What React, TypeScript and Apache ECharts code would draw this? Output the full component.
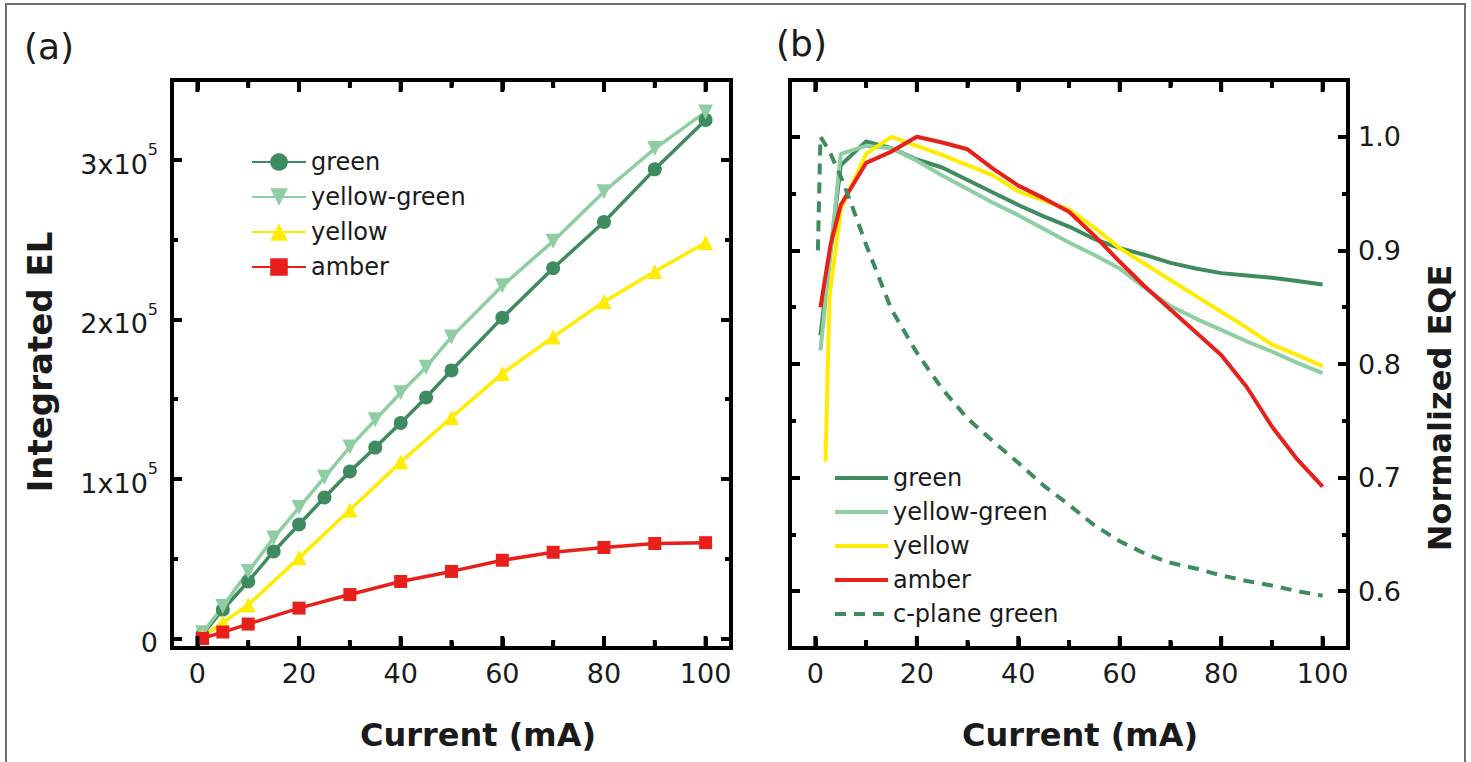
import React, { useEffect, useRef } from "react";
import * as echarts from "echarts";

// ---------- Panel (a): Integrated EL vs current ----------
const elGreenX = [1, 5, 10, 15, 20, 25, 30, 35, 40, 45, 50, 60, 70, 80, 90, 100];
const elGreenY = [2500, 18000, 35700, 54500, 71400, 88300, 104600, 119600, 135000, 151000, 168000, 201000, 232000, 261000, 294000, 325000];
const elYgX = [1, 5, 10, 15, 20, 25, 30, 35, 40, 45, 50, 60, 70, 80, 90, 100];
const elYgY = [3500, 20000, 42000, 63000, 82000, 101000, 120000, 137000, 154000, 170000, 189000, 221000, 249000, 280000, 307000, 330000];
const elYellowX = [1, 5, 10, 20, 30, 40, 50, 60, 70, 80, 90, 100];
const elYellowY = [1000, 10000, 21000, 50500, 80500, 110500, 138500, 166000, 189000, 211000, 230000, 248000];
const elAmberX = [1, 5, 10, 20, 30, 40, 50, 60, 70, 80, 90, 100];
const elAmberY = [0, 4000, 9000, 19000, 27500, 35700, 42000, 49000, 54000, 57000, 59500, 60000];

// axis ranges and ticks, panel (a)
const elXRange = [-5, 105];
const elYRange = [-6000, 350000];
const elXTicks = [0, 100, 20]; // first, last, major step
const elYTicks = [0, 300000, 100000];

// ---------- Panel (b): Normalized EQE vs current ----------
const eqGreenX = [1, 5, 10, 15, 20, 25, 30, 35, 40, 45, 50, 55, 60, 65, 70, 75, 80, 85, 90, 95, 100];
const eqGreenY = [0.825, 0.975, 0.996, 0.99, 0.98, 0.973, 0.962, 0.951, 0.94, 0.93, 0.921, 0.91, 0.902, 0.896, 0.889, 0.884, 0.88, 0.878, 0.876, 0.873, 0.87];
const eqYgX = [1, 5, 10, 15, 20, 25, 30, 35, 40, 45, 50, 55, 60, 65, 70, 75, 80, 85, 90, 95, 100];
const eqYgY = [0.812, 0.985, 0.992, 0.99, 0.979, 0.966, 0.954, 0.942, 0.931, 0.919, 0.907, 0.896, 0.884, 0.867, 0.851, 0.84, 0.83, 0.82, 0.811, 0.801, 0.792];
const eqYellowX = [2, 2.8, 5, 10, 15, 20, 25, 30, 35, 40, 45, 50, 55, 60, 65, 70, 75, 80, 85, 90, 95, 100];
const eqYellowY = [0.714, 0.86, 0.936, 0.985, 1.0, 0.992, 0.984, 0.975, 0.966, 0.952, 0.944, 0.936, 0.92, 0.902, 0.888, 0.874, 0.86, 0.846, 0.832, 0.817, 0.808, 0.798];
const eqAmberX = [1, 3, 5, 10, 15, 20, 25, 30, 35, 40, 45, 50, 55, 60, 65, 70, 75, 80, 85, 90, 95, 100];
const eqAmberY = [0.85, 0.905, 0.94, 0.977, 0.987, 1.0, 0.995, 0.989, 0.972, 0.957, 0.946, 0.934, 0.913, 0.89, 0.868, 0.848, 0.828, 0.808, 0.78, 0.745, 0.716, 0.692];
const eqCplaneX = [0.5, 1, 2, 3, 5, 7, 10, 15, 20, 25, 30, 35, 40, 45, 50, 55, 60, 65, 70, 75, 80, 85, 90, 95, 100];
const eqCplaneY = [0.9, 1.0, 0.993, 0.985, 0.965, 0.942, 0.905, 0.848, 0.81, 0.778, 0.752, 0.732, 0.713, 0.693, 0.676, 0.658, 0.644, 0.633, 0.625, 0.62, 0.614, 0.609, 0.605, 0.6, 0.596];

const eqXRange = [-5, 105];
const eqYRange = [0.55, 1.05];
const eqXTicks = [0, 100, 20];
const eqYTicks = [0.6, 1.0, 0.1];

// tick mark values along the current axis (both panels)
const xMajorTickValues = [0, 20, 40, 60, 80, 100];
const xMinorTickValues = [10, 30, 50, 70, 90];

const seriesNamesA = ["green", "yellow-green", "yellow", "amber"];
const seriesNamesB = ["green", "yellow-green", "yellow", "amber", "c-plane green"];

const C_GREEN = "#3d8b5e";
const C_YG = "#8fcea3";
const C_YELLOW = "#ffec00";
const C_AMBER = "#e8201c";
const TXT = "#1a1a1a";
const FONT = "'DejaVu Sans', 'Liberation Sans', sans-serif";

const SOLID_ICON = "path://M0,0L53,0L53,4L0,4Z";
const DASH_ICON = "path://M0,0L11,0L11,4L0,4Z M19,0L30,0L30,4L19,4Z M38,0L49,0L49,4L38,4Z M53,0L53,4L53,4Z";

// plot frames (px)
const FRAME_A = { left: 172, top: 80, width: 559, height: 568 };
const FRAME_B = { left: 790, top: 80, width: 558, height: 568 };

const zip = (xs: number[], ys: number[]) => xs.map((x, i) => [x, ys[i]]);

// x-tick grid spans the frame's full height; y-tick grid spans its full width
function tickGrids(frame: any, xr: number[], yr: number[], xt: number[], yt: number[]) {
  const sx = frame.width / (xr[1] - xr[0]);
  const sy = frame.height / (yr[1] - yr[0]);
  const left = frame.left + (xt[0] - xr[0]) * sx;
  const right = frame.left + (xt[1] - xr[0]) * sx;
  const bottom = frame.top + frame.height - (yt[0] - yr[0]) * sy;
  const top = frame.top + frame.height - (yt[1] - yr[0]) * sy;
  return {
    xGrid: { left, top: frame.top, width: right - left, height: frame.height },
    yGrid: { left: frame.left, top, width: frame.width, height: bottom - top },
  };
}

function tickAxis(gridIndex: number, t: number[], position: string, label: any) {
  return {
    type: "value",
    gridIndex,
    min: t[0],
    max: t[1],
    interval: t[2],
    position,
    offset: 0,
    axisLine: { show: false, onZero: false },
    splitLine: { show: true, lineStyle: { color: "rgba(0,0,0,0)" } },
    axisTick: {
      show: true,
      inside: true,
      length: 10,
      lineStyle: { color: "#000", width: 4 },
    },
    minorTick: {
      show: true,
      splitNumber: 2,
      length: 6,
      lineStyle: { color: "#000", width: 4 },
    },
    axisLabel: label ? { show: true, ...label } : { show: false },
  };
}

const hiddenAxis = (gridIndex: number, r: number[]) => ({
  type: "value",
  gridIndex,
  min: r[0],
  max: r[1],
  show: false,
});

// tick marks along the x edges drawn as small bars placed through the tick grid's axes
const tickMarks = (xIdx: number, yIdx: number, values: number[], edge: number, len: number) => ({
  type: "scatter",
  xAxisIndex: xIdx,
  yAxisIndex: yIdx,
  data: values.map((v) => [v, edge]),
  symbol: "rect",
  symbolSize: [4, len],
  symbolOffset: [0, edge === 0 ? -len / 2 : len / 2],
  itemStyle: { color: "#000", opacity: 1 },
  silent: true,
  clip: false,
  z: 4,
});

const labelBase = { fontFamily: FONT, fontSize: 27, color: TXT };

export default function App() {
  const ref = useRef<HTMLDivElement>(null);
  useEffect(() => {
    if (!ref.current) return;
    const chart = echarts.init(ref.current, undefined, { renderer: "svg" });

    const tA = tickGrids(FRAME_A, elXRange, elYRange, elXTicks, elYTicks);
    const tB = tickGrids(FRAME_B, eqXRange, eqYRange, eqXTicks, eqYTicks);

    // grids: 0 data a, 1 data b, 2 x-ticks a, 3 y-ticks a, 4 x-ticks b, 5 y-ticks b
    const xAxis = [
      hiddenAxis(0, elXRange),
      hiddenAxis(1, eqXRange),
      tickAxis(2, elXTicks, "bottom", { ...labelBase, margin: 12 }),
      tickAxis(2, elXTicks, "top", null),
      hiddenAxis(3, [0, 1]),
      tickAxis(4, eqXTicks, "bottom", { ...labelBase, margin: 12 }),
      tickAxis(4, eqXTicks, "top", null),
      hiddenAxis(5, [0, 1]),
    ];

    const yAxis = [
      hiddenAxis(0, elYRange),
      hiddenAxis(1, eqYRange),
      hiddenAxis(2, [0, 1]),
      tickAxis(3, elYTicks, "left", {
        ...labelBase,
        margin: 14,
        formatter: (v: number) =>
          v === 0 ? "{b|0}" : `{b|${Math.round(v / 100000)}x10}{s|5}`,
        rich: {
          b: { fontFamily: FONT, fontSize: 27, color: TXT, lineHeight: 36, verticalAlign: "bottom" },
          s: { fontFamily: FONT, fontSize: 16, color: TXT, lineHeight: 16, verticalAlign: "top" },
        },
      }),
      tickAxis(3, elYTicks, "right", null),
      hiddenAxis(4, [0, 1]),
      tickAxis(5, eqYTicks, "left", null),
      tickAxis(5, eqYTicks, "right", {
        ...labelBase,
        margin: 10,
        formatter: (v: number) => v.toFixed(1),
      }),
    ];

    const lineA = (name: string, xs: number[], ys: number[], color: string, symbol: string, size: number) => ({
      type: "line",
      name,
      xAxisIndex: 0,
      yAxisIndex: 0,
      data: zip(xs, ys),
      symbol,
      symbolSize: size,
      color,
      lineStyle: { color, width: 3.5 },
      itemStyle: { color },
      z: 3,
    });

    const lineB = (name: string, xs: number[], ys: number[], color: string, dashed = false) => ({
      type: "line",
      name: name + " (b)",
      xAxisIndex: 1,
      yAxisIndex: 1,
      data: zip(xs, ys),
      symbol: "none",
      color,
      lineStyle: { color, width: 4, type: dashed ? [11, 8] : "solid" },
      itemStyle: { color },
      z: 3,
    });

    const option: any = {
      animation: false,
      backgroundColor: "#fff",
      grid: [
        { ...FRAME_A, show: true, borderColor: "#000", borderWidth: 4 },
        { ...FRAME_B, show: true, borderColor: "#000", borderWidth: 4 },
        { ...tA.xGrid },
        { ...tA.yGrid },
        { ...tB.xGrid },
        { ...tB.yGrid },
      ],
      xAxis,
      yAxis,
      legend: [
        {
          data: seriesNamesA,
          orient: "vertical",
          left: 246,
          top: 145,
          itemWidth: 54,
          itemHeight: 22,
          itemGap: 11,
          selectedMode: false,
          textStyle: { fontFamily: FONT, fontSize: 24, color: TXT, lineHeight: 24 },
        },
        {
          data: seriesNamesB.map((n) => ({
            name: n + " (b)",
            icon: n === "c-plane green" ? DASH_ICON : SOLID_ICON,
          })),
          orient: "vertical",
          left: 830,
          top: 461,
          itemWidth: 53,
          itemHeight: 4,
          itemGap: 10,
          selectedMode: false,
          formatter: (n: string) => n.replace(" (b)", ""),
          textStyle: { fontFamily: FONT, fontSize: 24, color: TXT, lineHeight: 24 },
        },
      ],
      series: [
        lineA("green", elGreenX, elGreenY, C_GREEN, "circle", 14),
        lineA("yellow-green", elYgX, elYgY, C_YG, "path://M0,0L20,0L10,17Z", 15),
        lineA("yellow", elYellowX, elYellowY, C_YELLOW, "triangle", 15),
        lineA("amber", elAmberX, elAmberY, C_AMBER, "rect", 13),
        lineB("green", eqGreenX, eqGreenY, C_GREEN),
        lineB("yellow-green", eqYgX, eqYgY, C_YG),
        lineB("yellow", eqYellowX, eqYellowY, C_YELLOW),
        lineB("amber", eqAmberX, eqAmberY, C_AMBER),
        lineB("c-plane green", eqCplaneX, eqCplaneY, C_GREEN, true),
        // x tick marks, panel (a): x axis 2, hidden y axis 2 ([0,1] spans frame height)
        tickMarks(2, 2, xMajorTickValues, 0, 12),
        tickMarks(2, 2, xMinorTickValues, 0, 8),
        tickMarks(2, 2, xMajorTickValues, 1, 12),
        tickMarks(2, 2, xMinorTickValues, 1, 8),
        // x tick marks, panel (b): x axis 5, hidden y axis 5
        tickMarks(5, 5, xMajorTickValues, 0, 12),
        tickMarks(5, 5, xMinorTickValues, 0, 8),
        tickMarks(5, 5, xMajorTickValues, 1, 12),
        tickMarks(5, 5, xMinorTickValues, 1, 8),
      ],
      graphic: [
        {
          type: "rect",
          silent: true,
          shape: { x: 6, y: 4, width: 1459, height: 770 },
          style: { fill: "none", stroke: "#707070", lineWidth: 2 },
        },
        { type: "text", x: 24, y: 28, style: { text: "(a)", fontFamily: FONT, fontSize: 36, fill: TXT } },
        { type: "text", x: 776, y: 25, style: { text: "(b)", fontFamily: FONT, fontSize: 36, fill: TXT } },
        {
          type: "text", x: 478, y: 735,
          style: { text: "Current (mA)", fontFamily: FONT, fontWeight: "bold", fontSize: 32, fill: TXT, textAlign: "center", textVerticalAlign: "middle" },
        },
        {
          type: "text", x: 1080, y: 735,
          style: { text: "Current (mA)", fontFamily: FONT, fontWeight: "bold", fontSize: 32, fill: TXT, textAlign: "center", textVerticalAlign: "middle" },
        },
        {
          type: "text", x: 40, y: 362, rotation: Math.PI / 2,
          style: { text: "Integrated EL", fontFamily: FONT, fontWeight: "bold", fontSize: 34, fill: TXT, textAlign: "center", textVerticalAlign: "middle" },
        },
        {
          type: "text", x: 1440, y: 408, rotation: Math.PI / 2,
          style: { text: "Normalized EQE", fontFamily: FONT, fontWeight: "bold", fontSize: 32, fill: TXT, textAlign: "center", textVerticalAlign: "middle" },
        },
      ],
    };

    chart.setOption(option);
    return () => chart.dispose();
  }, []);

  return (
    <div
      ref={ref}
      style={{ position: "fixed", left: 0, top: 0, width: 1471, height: 762, background: "#fff" }}
    />
  );
}
